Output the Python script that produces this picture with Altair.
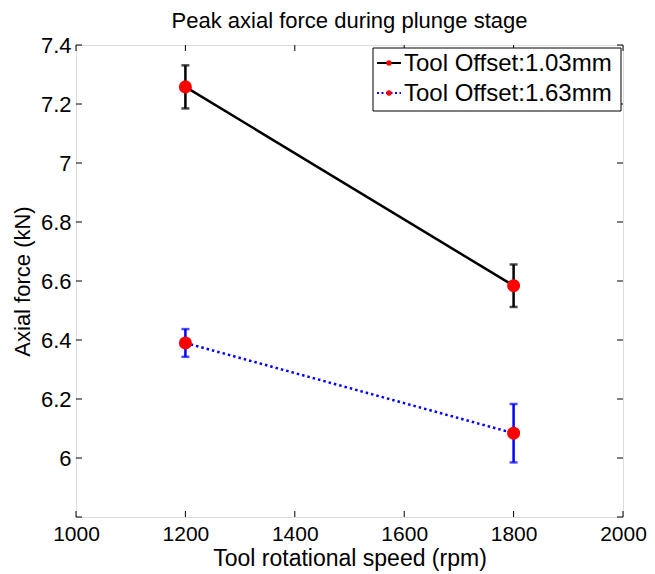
import altair as alt
import pandas as pd

speeds = [1200, 1800]
series = ["Tool Offset:1.03mm", "Tool Offset:1.63mm"]
force_103 = [7.258, 6.584]
err_103 = [0.073, 0.072]
force_163 = [6.390, 6.084]
err_163 = [0.047, 0.099]
line_colors = ["black", "blue"]
x_ticks = [1000, 1200, 1400, 1600, 1800, 2000]
y_ticks = [5.8, 6.0, 6.2, 6.4, 6.6, 6.8, 7.0, 7.2, 7.4]
y_labels = [6.0, 6.2, 6.4, 6.6, 6.8, 7.0, 7.2, 7.4]

rows = []
for s, f, e in [(series[0], force_103, err_103), (series[1], force_163, err_163)]:
    for sp, v, er in zip(speeds, f, e):
        rows.append({"speed": sp, "force": v, "lo": v - er, "hi": v + er, "series": s})
df = pd.DataFrame(rows)

W, H = 547, 472
FONT = "Liberation Sans"

xs = alt.Scale(domain=[1000, 2000], nice=False)
ys = alt.Scale(domain=[5.8, 7.4], nice=False, zero=False)
color = alt.Color("series:N", scale=alt.Scale(domain=series, range=line_colors), legend=None)

xaxis = alt.Axis(values=x_ticks, format="d", grid=False, ticks=False, domain=False,
                 labelFlush=False, labelOverlap=False,
                 labelFontSize=21, labelPadding=6, labelColor="black", labelFont=FONT,
                 title="Tool rotational speed (rpm)", titleFontSize=23, titleFont=FONT,
                 titleFontWeight="normal", titleColor="black", titlePadding=3)
yaxis = alt.Axis(values=y_labels, format="~g", grid=False, ticks=False, domain=False,
                 labelFlush=False, labelOverlap=False,
                 labelFontSize=22, labelPadding=5, labelColor="black", labelFont=FONT,
                 title="Axial force (kN)", titleFontSize=22, titleFont=FONT,
                 titleFontWeight="normal", titleColor="black", titlePadding=6)

base = alt.Chart(df)

line1 = base.transform_filter(alt.datum.series == series[0]).mark_line(
    strokeWidth=2.5, color="black").encode(
    x=alt.X("speed:Q", scale=xs, axis=xaxis), y=alt.Y("force:Q", scale=ys, axis=yaxis))
line2 = base.transform_filter(alt.datum.series == series[1]).mark_line(
    strokeWidth=2.5, color="blue", strokeDash=[2.5, 3]).encode(
    x=alt.X("speed:Q", scale=xs), y=alt.Y("force:Q", scale=ys))

err = base.mark_rule(strokeWidth=2.5).encode(
    x=alt.X("speed:Q", scale=xs), y=alt.Y("lo:Q", scale=ys), y2="hi:Q", color=color)
cap_lo = base.mark_tick(orient="horizontal", size=8, thickness=2.5).encode(
    x=alt.X("speed:Q", scale=xs), y=alt.Y("lo:Q", scale=ys), color=color)
cap_hi = base.mark_tick(orient="horizontal", size=8, thickness=2.5).encode(
    x=alt.X("speed:Q", scale=xs), y=alt.Y("hi:Q", scale=ys), color=color)
pts = base.mark_point(filled=True, shape="circle", size=170, color="red", opacity=1).encode(
    x=alt.X("speed:Q", scale=xs), y=alt.Y("force:Q", scale=ys))

# inward ticks on all four sides
xt = pd.DataFrame({"v": x_ticks})
yt = pd.DataFrame({"v": y_ticks})
tk = 6
xb = alt.Chart(xt).mark_rule(color="black", strokeWidth=1).encode(
    x=alt.X("v:Q", scale=xs), y=alt.value(H), y2=alt.value(H - tk))
xtop = alt.Chart(xt).mark_rule(color="black", strokeWidth=1).encode(
    x=alt.X("v:Q", scale=xs), y=alt.value(0), y2=alt.value(tk))
yl = alt.Chart(yt).mark_rule(color="black", strokeWidth=1).encode(
    y=alt.Y("v:Q", scale=ys), x=alt.value(0), x2=alt.value(tk))
yr = alt.Chart(yt).mark_rule(color="black", strokeWidth=1).encode(
    y=alt.Y("v:Q", scale=ys), x=alt.value(W), x2=alt.value(W - tk))

# legend
lx0, ly0, lx1, ly1 = 297, 3, 545, 66
leg_box = alt.Chart(pd.DataFrame({"a": [0]})).mark_rect(
    fill="white", stroke="black", strokeWidth=1).encode(
    x=alt.value(lx0), x2=alt.value(lx1), y=alt.value(ly0), y2=alt.value(ly1))
leg_layers = [leg_box]
for i, (s, c) in enumerate(zip(series, line_colors)):
    yy = 18 + i * 30
    d = pd.DataFrame({"s": [s]})
    lk = dict(strokeWidth=2, color=c)
    if i == 1:
        lk["strokeDash"] = [2, 2.5]
    leg_layers.append(alt.Chart(d).mark_rule(**lk).encode(
        x=alt.value(lx0 + 4), x2=alt.value(lx0 + 28), y=alt.value(yy)))
    leg_layers.append(alt.Chart(d).mark_point(filled=True, shape="circle", size=28,
                                              color="red", opacity=1).encode(
        x=alt.value(lx0 + 16), y=alt.value(yy)))
    leg_layers.append(alt.Chart(d).mark_text(align="left", baseline="middle", fontSize=24,
                                             font=FONT, color="black").encode(
        x=alt.value(lx0 + 31), y=alt.value(yy + 1), text="s:N"))

chart = alt.layer(line1, line2, err, cap_lo, cap_hi, pts, xb, xtop, yl, yr, *leg_layers).properties(
    width=W, height=H,
    title=alt.TitleParams("Peak axial force during plunge stage", fontSize=22, font=FONT,
                          fontWeight="normal", color="black", offset=1),
    autosize=alt.AutoSizeParams(type="none"),
    padding={"left": 68, "top": 37, "right": 24, "bottom": 57},
).configure_view(stroke="black", strokeWidth=1.2).configure(background="white")

chart.save("out.html", embed_options={"renderer": "svg", "actions": False})
